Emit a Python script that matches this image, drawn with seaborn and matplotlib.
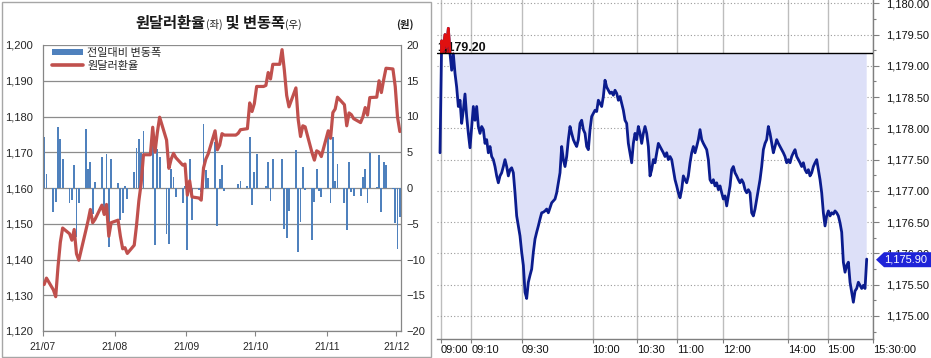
import numpy as np
import pandas as pd
import matplotlib
matplotlib.use("Agg")
import matplotlib.pyplot as plt
from matplotlib.patches import Patch, Rectangle, Polygon
from matplotlib.lines import Line2D
from matplotlib.ticker import FuncFormatter, MultipleLocator
import seaborn as sns

# ---------------- data: left panel (daily KRW/USD) ----------------
trade_dates = pd.bdate_range("2021-07-01", "2021-12-02")

rate_jul = [1133.0, 1134.8, 1131.5, 1129.6, 1138.0, 1144.8, 1148.8, 1147.2, 1145.4, 1148.4, 1141.6,
            1139.8, 1148.0, 1150.8, 1154.0, 1150.3, 1151.2, 1155.2, 1152.6, 1155.4, 1146.5, 1150.3]
rate_aug = [1151.0, 1146.5, 1143.0, 1143.3, 1141.7, 1144.0, 1149.6, 1156.4, 1161.3, 1169.3, 1169.3,
            1177.0, 1170.0, 1175.5, 1179.8, 1173.4, 1165.5, 1168.1, 1169.7, 1168.5, 1166.4, 1166.7]
rate_sep = [1158.0, 1162.0, 1157.5, 1157.2, 1156.6, 1165.6, 1168.1, 1169.5, 1176.0, 1170.7, 1172.0,
            1175.2, 1174.8, 1174.8, 1174.8, 1174.8, 1175.3, 1176.3, 1176.6, 1183.8, 1181.4, 1183.6]
rate_oct = [1188.4, 1188.4, 1188.7, 1192.3, 1190.5, 1194.6, 1194.6, 1198.7, 1192.9, 1185.9, 1182.7,
            1188.0, 1179.1, 1174.4, 1177.4, 1177.1, 1169.8, 1167.8, 1170.4, 1170.0, 1168.8]
rate_nov = [1176.0, 1173.9, 1181.1, 1182.1, 1185.4, 1183.3, 1177.4, 1181.0, 1180.5, 1179.4, 1178.3,
            1179.9, 1182.5, 1180.4, 1185.3, 1185.4, 1190.0, 1186.7, 1190.3, 1193.5, 1193.3, 1188.4]
rate_dec = [1179.8, 1175.8]

chg_jul = [7.2, 2.0, -3.3, -2.0, 8.5, 6.9, 4.1, -2.1, -1.7, 3.2, -6.8,
           -2.1, 8.3, 2.7, 3.6, -3.7, 0.9, 4.4, -3.5, 4.7, -8.2, 4.1]
chg_aug = [0.7, -4.5, -3.5, 0.3, -1.6, 2.3, 5.6, 6.8, 4.9, 8.0, 0.0,
           7.7, -8.0, 5.5, 4.3, -6.4, -7.9, 2.6, 1.6, -1.2, -2.1, 0.3]
chg_sep = [-8.7, 4.0, -4.5, -0.3, -0.6, 9.0, 2.5, 1.4, 6.5, -5.3, 1.3,
           3.2, -0.4, 0.0, 0.0, 0.0, 0.5, 1.0, 0.3, 7.2, -2.4, 2.2]
chg_oct = [4.8, 0.0, 0.3, 3.6, -1.8, 4.1, 0.0, 4.1, -5.8, -7.0, -3.2,
           5.3, -8.9, -4.7, 3.0, -0.3, -7.3, -2.0, 2.6, -0.4, -1.2]
chg_nov = [7.2, -2.1, 7.2, 1.0, 3.3, -2.1, -5.9, 3.6, -0.5, -1.1, -1.1,
           1.6, 2.6, -2.1, 4.9, 0.1, 4.6, -3.3, 3.6, 3.2, -0.2, -4.9]
chg_dec = [-8.6, -4.0]

month_ticks = pd.date_range("2021-07-01", "2021-12-01", freq="MS")
month_labels = ["21/07", "21/08", "21/09", "21/10", "21/11", "21/12"]

# ---------------- data: right panel (intraday ticks) ----------------
intraday_am = [
    1177.61, 1179.40, 1179.25, 1179.50, 1179.30, 1179.60, 1179.20, 1178.93, 1179.19, 1178.88,
    1178.66, 1178.35, 1178.45, 1178.08, 1178.29, 1178.55, 1178.19, 1177.92, 1177.69, 1178.03,
    1178.35, 1178.13, 1178.35, 1178.03, 1177.92, 1178.03, 1177.98, 1177.76, 1177.82, 1177.61,
    1177.71, 1177.55, 1177.50, 1177.39, 1177.24, 1177.13, 1177.24, 1177.29, 1177.39, 1177.50,
    1177.39, 1177.24, 1177.34, 1177.37, 1177.29, 1176.97, 1176.60, 1176.44, 1176.28, 1176.02,
    1175.81, 1175.38, 1175.28, 1175.54, 1175.65, 1175.75, 1176.02, 1176.23, 1176.34, 1176.44,
    1176.55, 1176.65, 1176.66, 1176.68, 1176.71, 1176.65, 1176.73, 1176.81, 1176.84, 1176.87,
    1176.97, 1177.13, 1177.29, 1177.71, 1177.50, 1177.39, 1177.55, 1177.82, 1178.03, 1177.92,
    1177.82, 1177.76, 1177.71, 1177.82, 1178.08, 1178.13, 1177.98, 1177.92, 1177.71, 1177.66,
    1177.98, 1178.19, 1178.24, 1178.29, 1178.27, 1178.45, 1178.40, 1178.35, 1178.51, 1178.77,
    1178.66, 1178.61, 1178.56, 1178.58, 1178.53, 1178.61, 1178.56, 1178.45, 1178.51, 1178.40,
    1178.29, 1178.13, 1178.08, 1177.76, 1177.61, 1177.45, 1177.76, 1177.92, 1177.82, 1178.03,
    1177.92, 1177.76, 1177.92, 1178.03, 1177.92, 1177.71]
intraday_pm = [
    1177.24, 1177.34, 1177.50, 1177.45, 1177.61, 1177.76, 1177.71, 1177.66, 1177.61, 1177.55,
    1177.61, 1177.50, 1177.55, 1177.50, 1177.34, 1177.18, 1177.08, 1176.97, 1176.89, 1177.02,
    1177.24, 1177.18, 1177.13, 1177.24, 1177.45, 1177.61, 1177.71, 1177.61, 1177.71, 1177.82,
    1177.98, 1177.82, 1177.76, 1177.71, 1177.66, 1177.50, 1177.18, 1177.13, 1177.18, 1177.08,
    1177.13, 1177.02, 1177.08, 1176.97, 1176.87, 1176.92, 1176.76, 1176.92, 1177.08, 1177.34,
    1177.39, 1177.29, 1177.24, 1177.18, 1177.13, 1177.18, 1177.13, 1177.02, 1176.97, 1177.02,
    1176.97, 1176.65, 1176.60, 1176.71, 1176.87, 1177.02, 1177.18, 1177.39, 1177.66, 1177.76,
    1177.82, 1178.03, 1177.92, 1177.76, 1177.61, 1177.71, 1177.82, 1177.76, 1177.71, 1177.66,
    1177.61, 1177.55, 1177.45, 1177.50, 1177.45, 1177.55, 1177.61, 1177.66, 1177.55, 1177.50,
    1177.45, 1177.39, 1177.45, 1177.34, 1177.29, 1177.34, 1177.24, 1177.29, 1177.39, 1177.45,
    1177.50, 1177.34, 1177.18, 1176.97, 1176.65, 1176.44, 1176.60, 1176.68, 1176.60, 1176.65,
    1176.63, 1176.68, 1176.65, 1176.60, 1176.49, 1176.34, 1175.86, 1175.70, 1175.81, 1175.86,
    1175.54, 1175.38, 1175.22, 1175.40, 1175.44, 1175.54, 1175.49, 1175.44, 1175.49, 1175.44,
    1175.91]
ref_price = 1179.20
last_price = 1175.90
time_labels = ["09:00", "09:10", "09:30", "10:00", "10:30", "11:00", "12:00", "14:00", "15:00", "15:30:00"]
time_tick_idx = [0.5, 18.8, 49.0, 91.5, 118.4, 142.0, 169.6, 209.0, 232.5, 259.6]

# ---------------- figure ----------------
sns.set_theme(style="white")
plt.rcParams["font.family"] = ["Liberation Sans", "Noto Sans CJK KR", "DejaVu Sans"]
KR = ["Noto Sans CJK KR", "DejaVu Sans"]

W, H = 931, 358
fig = plt.figure(figsize=(W / 100, H / 100), dpi=100)
fig.patch.set_facecolor("white")

# ---- left panel ----
rect = [43 / W, (H - 331) / H, (401 - 43) / W, (331 - 45) / H]
ax_bar = fig.add_axes(rect)
ax_line = ax_bar.twinx()
ax_bar.yaxis.tick_right()
ax_line.yaxis.tick_left()

rate = np.array(rate_jul + rate_aug + rate_sep + rate_oct + rate_nov + rate_dec)
chg = np.array(chg_jul + chg_aug + chg_sep + chg_oct + chg_nov + chg_dec)
xdates = trade_dates + pd.Timedelta(hours=12)

bar_color = "#4f81bd"
line_color = "#c0504d"
ax_bar.bar(xdates, chg, width=0.8, color=bar_color, linewidth=0, zorder=2)
sns.lineplot(x=xdates, y=rate, ax=ax_line, color=line_color, linewidth=2.3, zorder=3)

ax_bar.set_ylim(-20, 20)
ax_bar.set_yticks(np.arange(-20, 21, 5))
ax_line.set_ylim(1120, 1200)
ax_line.set_yticks(np.arange(1120, 1201, 10))
ax_line.yaxis.set_major_formatter(FuncFormatter(lambda v, p: f"{v:,.0f}"))
ax_bar.set_xlim(pd.Timestamp("2021-07-01"), pd.Timestamp("2021-12-03"))
ax_bar.set_xticks(month_ticks)
ax_bar.set_xticklabels(month_labels)
ax_bar.set_xlabel("")
ax_line.set_xlabel("")
ax_line.set_ylabel("")
ax_bar.set_ylabel("")

ax_bar.yaxis.grid(True, color="#8c8c8c", linewidth=0.9)
ax_bar.xaxis.grid(False)
ax_bar.set_axisbelow(True)
for s in ["left", "bottom", "right"]:
    ax_bar.spines[s].set_color("#868686")
    ax_bar.spines[s].set_linewidth(0.9)
ax_bar.spines["top"].set_visible(False)
for s in ax_line.spines.values():
    s.set_visible(False)

ax_bar.tick_params(axis="x", which="major", direction="out", length=3.5, width=0.8,
                   color="#868686", labelsize=7.5, labelcolor="#262626", pad=4.5, bottom=True)
ax_bar.tick_params(axis="y", length=0, labelsize=8, labelcolor="#262626", pad=4)
ax_line.tick_params(axis="y", length=0, labelsize=8, labelcolor="#262626", pad=7)

handles = [Patch(facecolor=bar_color, edgecolor="none"),
           Line2D([0], [0], color=line_color, linewidth=2.6)]
leg = ax_line.legend(handles, ["전일대비 변동폭", "원달러환율"], loc="upper left",
                     bbox_to_anchor=(6 / 358, 1.0), frameon=False, borderaxespad=0.0,
                     borderpad=0.25, labelspacing=0.25, handlelength=2.8, handleheight=0.55,
                     handletextpad=0.4, prop={"family": KR, "size": 8})

# title made of pieces with different sizes
renderer = fig.canvas.get_renderer()
pieces = [("원달러환율", 11, "bold"), ("(좌)", 7.5, "normal"), (" 및 변동폭", 11, "bold"),
          ("(우)", 7.5, "normal")]
texts, widths = [], []
ybase = (H - 28) / H
for s, sz, wt in pieces:
    t = fig.text(0, ybase, s, fontsize=sz, fontweight=wt, family=KR, va="baseline",
                 ha="left", color="#1a1a1a")
    texts.append(t)
    widths.append(t.get_window_extent(renderer).width)
x0 = 219 - sum(widths) / 2
for t, w in zip(texts, widths):
    t.set_x(x0 / W)
    x0 += w
fig.text(405 / W, (H - 24) / H, "(원)", fontsize=7.5, fontweight="bold", family=KR,
         ha="center", va="center", color="#1a1a1a")

# left panel border
fig.add_artist(Rectangle((1.5 / W, 1.5 / H), (431 - 1.5) / W, (356.5 - 1.5) / H,
                         transform=fig.transFigure, fill=False, edgecolor="#a6a6a6",
                         linewidth=1.0, zorder=0.5))

# ---- right panel ----
axP = fig.add_axes([437 / W, (H - 339) / H, (872.7 - 437) / W, 339 / H])
prices = np.array(intraday_am + intraday_pm)
idx = np.arange(len(prices))

axP.fill_between(idx, prices, ref_price, where=prices <= ref_price, interpolate=True,
                 color="#dde0f8", linewidth=0, zorder=1)
axP.fill_between(idx, prices, ref_price, where=prices >= ref_price, interpolate=True,
                 color="#cc1010", linewidth=0, zorder=1)
sns.lineplot(x=idx, y=prices, ax=axP, color="#0b1c8e", linewidth=2.0, zorder=3)
sns.lineplot(x=idx, y=prices, ax=axP, color="#e01010", linewidth=2.0, zorder=3.1)
red_line = axP.lines[-1]
clip_rect = Rectangle((-10, ref_price), 300, 5, transform=axP.transData)
red_line.set_clip_path(clip_rect)
axP.axhline(ref_price, color="black", linewidth=1.0, zorder=4)
axP.text(-1.9, ref_price + 0.035, f"{ref_price:,.2f}", fontsize=9, fontweight="bold",
         ha="left", va="baseline", color="#111111", zorder=2.5)

axP.set_xlim(-1.8, 259.6)
axP.set_ylim(1174.632, 1180.053)
axP.set_xticks(time_tick_idx)
axP.set_xticklabels(time_labels, ha="left")
axP.yaxis.tick_right()
axP.set_yticks(np.arange(1175.0, 1180.01, 0.5))
axP.yaxis.set_minor_locator(MultipleLocator(0.25))
axP.yaxis.set_major_formatter(FuncFormatter(lambda v, p: f"{v:,.2f}"))
axP.set_xlabel("")
axP.set_ylabel("")

axP.xaxis.grid(True, color="#bdbdbd", linewidth=1.0)
axP.yaxis.grid(True, which="major", color="#9a9a9a", linewidth=0.8, linestyle=(0, (1, 2)))
axP.set_axisbelow(True)
for s in ["top", "left"]:
    axP.spines[s].set_visible(False)
for s in ["bottom", "right"]:
    axP.spines[s].set_color("#7f7f7f")
    axP.spines[s].set_linewidth(1.0)
axP.tick_params(axis="x", direction="out", length=3, width=0.8, color="#7f7f7f",
                labelsize=8, labelcolor="#111111", pad=1.5, bottom=True)
axP.tick_params(axis="y", which="major", direction="out", length=4, width=0.8,
                color="#7f7f7f", labelsize=8, labelcolor="#111111", pad=6, right=True)
axP.tick_params(axis="y", which="minor", direction="out", length=2, width=0.8,
                color="#7f7f7f", right=True)

# current price marker (drawn over the axis labels, as in the source terminal)
yc = axP.transData.transform((0, last_price))[1]
yc_px = H - yc
poly = [(876, yc_px), (884, yc_px - 7.5), (931, yc_px - 7.5), (931, yc_px + 7.5), (884, yc_px + 7.5)]
poly_fig = [(px / W, (H - py) / H) for px, py in poly]
fig.add_artist(Polygon(poly_fig, closed=True, transform=fig.transFigure,
                       facecolor="#1f24d8", edgecolor="none", zorder=5))
fig.text(906 / W, (H - yc_px) / H, f"{last_price:,.2f}", fontsize=8, color="white",
         ha="center", va="center", zorder=6)

fig.savefig("out.png", dpi=100, facecolor="white")
